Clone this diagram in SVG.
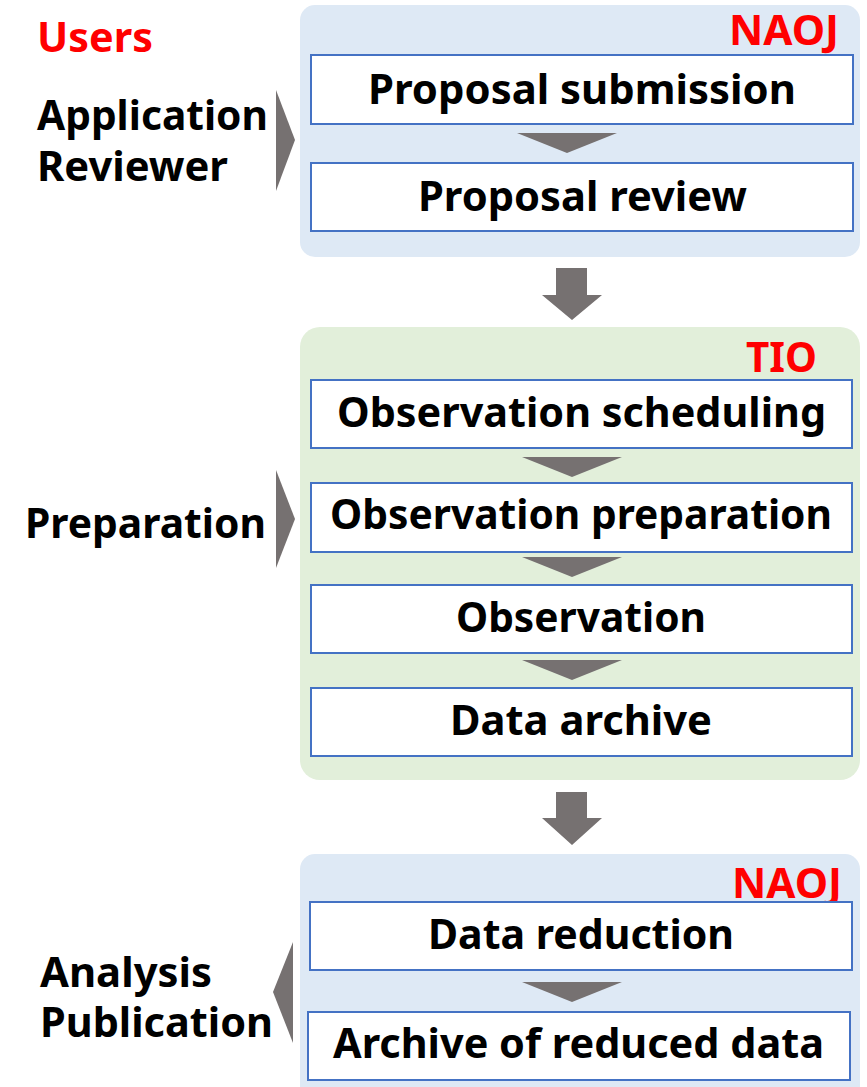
<svg xmlns="http://www.w3.org/2000/svg" width="867" height="1087" viewBox="0 0 867 1087">
  <style>
    .t { font-family: "Noto Sans", "Noto Sans CJK JP", sans-serif; font-weight: 700; font-size: 41px; fill: #000; }
    .red { fill: #ff0000; }
    .box { fill: #ffffff; stroke: #4472c4; stroke-width: 2; }
    .arr { fill: #767171; }
  </style>
  <rect width="867" height="1087" fill="#ffffff"/>

  <!-- organisation panels -->
  <g id="panel-naoj-1">
    <rect x="300" y="5" width="560" height="252" rx="15" fill="#dee9f5"/>
    <text class="t red" x="729" y="45" textLength="110" lengthAdjust="spacingAndGlyphs">NAOJ</text>
  </g>
  <g id="panel-tio">
    <rect x="300" y="327" width="560" height="453" rx="20" fill="#e2efda"/>
    <text class="t red" x="746" y="372" textLength="71" lengthAdjust="spacingAndGlyphs">TIO</text>
  </g>
  <g id="panel-naoj-2">
    <rect x="300" y="854" width="560" height="250" rx="15" fill="#dee9f5"/>
    <text class="t red" x="732" y="898" textLength="110" lengthAdjust="spacingAndGlyphs">NAOJ</text>
  </g>

  <!-- side labels -->
  <g id="label-users">
    <text class="t red" x="37" y="52" textLength="116" lengthAdjust="spacingAndGlyphs">Users</text>
  </g>
  <g id="label-application">
    <text class="t" x="37" y="130" textLength="231" lengthAdjust="spacingAndGlyphs">Application</text>
    <text class="t" x="37" y="181" textLength="191" lengthAdjust="spacingAndGlyphs">Reviewer</text>
  </g>
  <g id="label-preparation">
    <text class="t" x="25" y="538" textLength="241" lengthAdjust="spacingAndGlyphs">Preparation</text>
  </g>
  <g id="label-analysis">
    <text class="t" x="40" y="987" textLength="172" lengthAdjust="spacingAndGlyphs">Analysis</text>
    <text class="t" x="40" y="1037" textLength="233" lengthAdjust="spacingAndGlyphs">Publication</text>
  </g>

  <!-- process steps -->
  <g id="proposal-submission">
    <rect class="box" x="311" y="55" width="542" height="69"/>
    <text class="t" x="368" y="104" textLength="428" lengthAdjust="spacingAndGlyphs">Proposal submission</text>
  </g>
  <g id="proposal-review">
    <rect class="box" x="311" y="163" width="542" height="68"/>
    <text class="t" x="418" y="211" textLength="329" lengthAdjust="spacingAndGlyphs">Proposal review</text>
  </g>
  <g id="observation-scheduling">
    <rect class="box" x="311" y="380" width="541" height="68"/>
    <text class="t" x="337" y="427" textLength="489" lengthAdjust="spacingAndGlyphs">Observation scheduling</text>
  </g>
  <g id="observation-preparation">
    <rect class="box" x="311" y="483" width="541" height="69"/>
    <text class="t" x="330" y="529" textLength="502" lengthAdjust="spacingAndGlyphs">Observation preparation</text>
  </g>
  <g id="observation">
    <rect class="box" x="311" y="585" width="541" height="68"/>
    <text class="t" x="456" y="632" textLength="250" lengthAdjust="spacingAndGlyphs">Observation</text>
  </g>
  <g id="data-archive">
    <rect class="box" x="311" y="688" width="541" height="68"/>
    <text class="t" x="450" y="735" textLength="262" lengthAdjust="spacingAndGlyphs">Data archive</text>
  </g>
  <g id="data-reduction">
    <rect class="box" x="310" y="902" width="542" height="68"/>
    <text class="t" x="428" y="949" textLength="306" lengthAdjust="spacingAndGlyphs">Data reduction</text>
  </g>
  <g id="archive-reduced">
    <rect class="box" x="308" y="1012" width="542" height="68"/>
    <text class="t" x="333" y="1058" textLength="491" lengthAdjust="spacingAndGlyphs">Archive of reduced data</text>
  </g>

  <!-- connectors -->
  <g id="connectors">
    <!-- flow chevrons between steps -->
    <polygon class="arr" points="517,133 617,133 567,153"/>
    <polygon class="arr" points="522,457 622,457 572,477"/>
    <polygon class="arr" points="522,557 622,557 572,577"/>
    <polygon class="arr" points="522,660 622,660 572,680"/>
    <polygon class="arr" points="522,982 622,982 572,1002"/>
    <!-- block arrows between panels -->
    <polygon class="arr" points="556,268 587,268 587,295 602,295 572,320 542,295 556,295"/>
    <polygon class="arr" points="556,792 587,792 587,818 602,818 572,845 542,818 556,818"/>
    <!-- side pointers -->
    <polygon class="arr" points="276,90 295,140 276,191"/>
    <polygon class="arr" points="276,470 295,519 276,568"/>
    <polygon class="arr" points="293,942 273,992 293,1043"/>
  </g>
</svg>
